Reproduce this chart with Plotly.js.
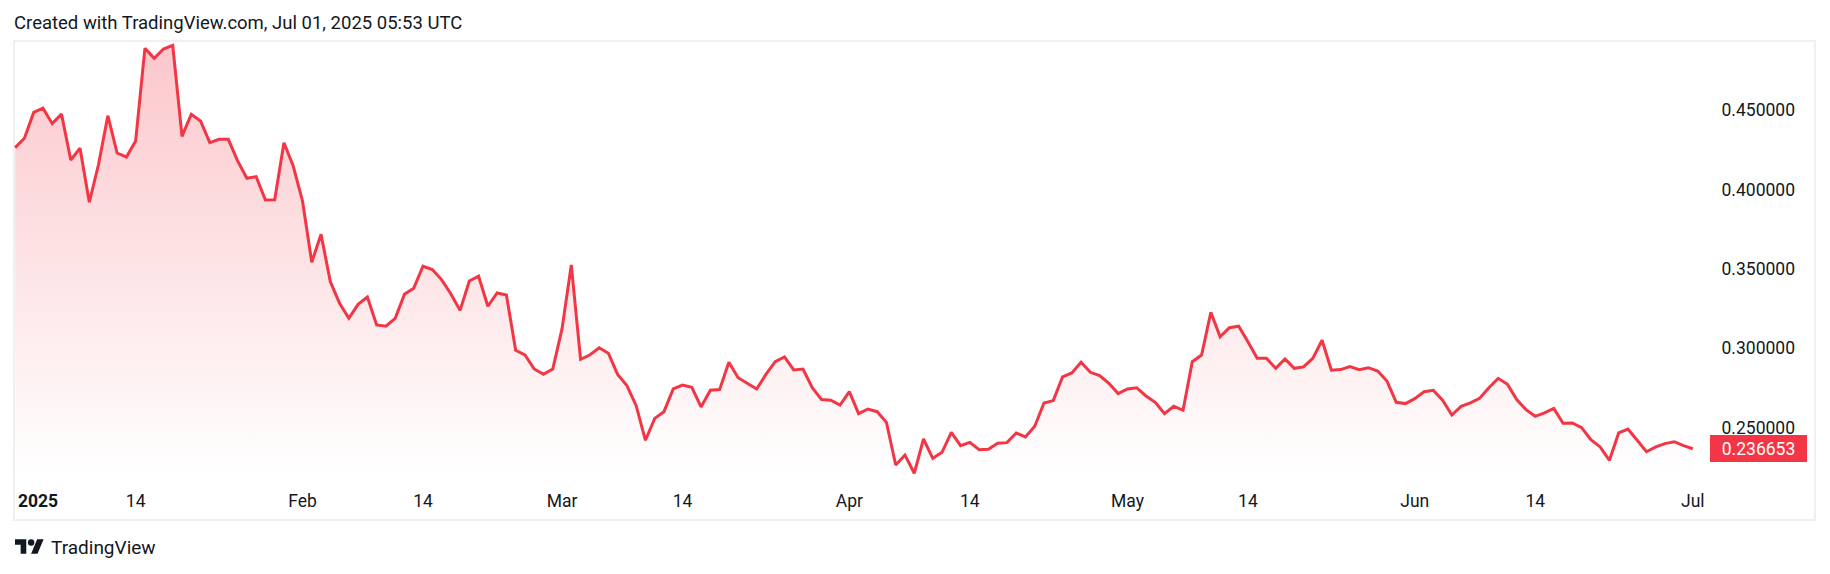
<!DOCTYPE html>
<html>
<head>
<meta charset="utf-8">
<script src="https://cdn.plot.ly/plotly-3.0.1.min.js"></script>
<style>
  html, body { margin: 0; padding: 0; background: #ffffff; }
  #chart { width: 1830px; height: 574px; }
</style>
</head>
<body>
<div id="chart"></div>
<script>
// ---- data (daily closes, Jan 1 2025 .. Jul 1 2025) ----
const startDate = '2025-01-01';
const values = [
  0.4263, 0.4322, 0.4485, 0.4511, 0.4414, 0.4475, 0.4185, 0.4259, 0.3919, 0.4158,
  0.4464, 0.4229, 0.4204, 0.4305, 0.4888, 0.4825, 0.4884, 0.4907, 0.4334, 0.4473,
  0.4431, 0.4294, 0.4315, 0.4315, 0.4179, 0.4070, 0.4080, 0.3933, 0.3935, 0.4294,
  0.4147, 0.3927, 0.3541, 0.3717, 0.3419, 0.3283, 0.3188, 0.3276, 0.3322, 0.3146,
  0.3138, 0.3188, 0.3339, 0.3377, 0.3516, 0.3495, 0.3432, 0.3343, 0.3238, 0.3423,
  0.3453, 0.3264, 0.3348, 0.3335, 0.2987, 0.2957, 0.2869, 0.2835, 0.2869, 0.3121,
  0.3524, 0.2930, 0.2957, 0.3003, 0.2968, 0.2835, 0.2764, 0.2638, 0.2420, 0.2558,
  0.2600, 0.2743, 0.2768, 0.2754, 0.2630, 0.2735, 0.2739, 0.2911, 0.2814, 0.2777,
  0.2743, 0.2835, 0.2915, 0.2945, 0.2863, 0.2869, 0.2751, 0.2676, 0.2672, 0.2642,
  0.2726, 0.2588, 0.2617, 0.2600, 0.2533, 0.2264, 0.2327, 0.2212, 0.2428, 0.2306,
  0.2344, 0.2470, 0.2386, 0.2407, 0.2361, 0.2363, 0.2401, 0.2405, 0.2466, 0.2441,
  0.2508, 0.2655, 0.2670, 0.2819, 0.2844, 0.2911, 0.2848, 0.2827, 0.2779, 0.2714,
  0.2743, 0.2751, 0.2699, 0.2659, 0.2588, 0.2634, 0.2609, 0.2915, 0.2957, 0.3226,
  0.3071, 0.3129, 0.3138, 0.3041, 0.2936, 0.2936, 0.2873, 0.2932, 0.2873, 0.2882,
  0.2936, 0.3050, 0.2861, 0.2865, 0.2884, 0.2865, 0.2877, 0.2856, 0.2793, 0.2659,
  0.2651, 0.2682, 0.2726, 0.2735, 0.2672, 0.2579, 0.2634, 0.2655, 0.2684, 0.2751,
  0.2810, 0.2773, 0.2676, 0.2613, 0.2571, 0.2592, 0.2621, 0.2527, 0.2529, 0.2500,
  0.2424, 0.2378, 0.2294, 0.2466, 0.2491, 0.2420, 0.2348, 0.2378, 0.2399, 0.2411,
  0.2386, 0.236653
];
const lastPriceText = '0.236653';

// x tick labels
const xTickDates = ['2025-01-14', '2025-02-01', '2025-02-14', '2025-03-01', '2025-03-14',
                    '2025-04-01', '2025-04-14', '2025-05-01', '2025-05-14', '2025-06-01',
                    '2025-06-14', '2025-07-01'];
const xTickText  = ['14', 'Feb', '14', 'Mar', '14', 'Apr', '14', 'May', '14', 'Jun', '14', 'Jul'];
const yearLabel = '2025';
// y tick labels
const yTickVals = [0.25, 0.30, 0.35, 0.40, 0.45];

const titleText = 'Created with TradingView.com, Jul 01, 2025 05:53 UTC';
const brandText = 'TradingView';

// ---- build dates ----
const dates = [];
{
  const d0 = new Date(startDate + 'T00:00:00Z');
  for (let i = 0; i < values.length; i++) {
    const d = new Date(d0.getTime() + i * 86400000);
    dates.push(d.toISOString().slice(0, 10));
  }
}

const FONT = 'Roboto, "Liberation Sans", Arial, sans-serif';
const RED = '#f23645';
const TXT = '#131722';

const W = 1830, H = 574;
const mL = 14, mR = 15, mT = 41, mB = 98;
const plotH = H - mT - mB;
const frameBottomPx = 520;
const yTop = 0.49345, yBot = 0.2195;

const logoSvg = '<svg xmlns="http://www.w3.org/2000/svg" viewBox="0 0 36 28"><path fill="#131722" d="M14 22H7V11H0V4h14v18zM28 22h-8l7.5-18h8L28 22z"/><circle fill="#131722" cx="20" cy="8" r="4"/></svg>';
const logoUri = 'data:image/svg+xml;base64,' + btoa(logoSvg);

const trace = {
  type: 'scatter',
  mode: 'lines',
  x: dates,
  y: values,
  line: { color: RED, width: 3 },
  fill: 'tozeroy',
  fillgradient: {
    type: 'vertical',
    start: yBot,
    stop: yTop,
    colorscale: [[0, 'rgba(242,54,69,0.0)'], [1, 'rgba(242,54,69,0.28)']]
  },
  hoverinfo: 'skip'
};

const layout = {
  width: W, height: H,
  margin: { l: mL, r: mR, t: mT, b: mB, pad: 0 },
  paper_bgcolor: '#ffffff',
  plot_bgcolor: '#ffffff',
  showlegend: false,
  font: { family: FONT, size: 17.5, color: TXT },
  title: {
    text: titleText,
    xref: 'container', x: 14 / W, xanchor: 'left',
    yref: 'container', y: 1 - 23 / H, yanchor: 'middle',
    font: { family: FONT, size: 18.5, color: TXT }
  },
  xaxis: {
    type: 'date',
    range: ['2024-12-31 21:00', '2025-07-14 04:19'],
    showgrid: false, zeroline: false, showline: false,
    ticks: '',
    tickmode: 'array',
    tickvals: xTickDates,
    ticktext: xTickText,
    tickfont: { family: FONT, size: 17.5, color: TXT },
    ticklabelstandoff: 12,
    fixedrange: true
  },
  yaxis: {
    range: [yBot, yTop],
    side: 'right',
    showgrid: false, zeroline: false, showline: false,
    ticks: '',
    tickmode: 'array',
    tickvals: yTickVals,
    tickformat: '.6f',
    ticklabelposition: 'inside',
    ticklabelstandoff: 17,
    tickfont: { family: FONT, size: 17.5, color: TXT },
    fixedrange: true
  },
  shapes: [
    {
      type: 'rect', xref: 'paper', yref: 'paper', layer: 'below',
      x0: 0, x1: 1, y0: (mT + plotH - frameBottomPx) / plotH, y1: 1,
      line: { color: '#f0f0f0', width: 2 }, fillcolor: 'rgba(0,0,0,0)'
    }
  ],
  annotations: [
    {
      text: '<b>' + yearLabel + '</b>',
      xref: 'x', x: startDate, xanchor: 'left', xshift: 1,
      yref: 'paper', y: (mT + plotH - 501) / plotH, yanchor: 'middle',
      showarrow: false,
      font: { family: FONT, size: 17.5, color: TXT }
    },
    {
      text: lastPriceText,
      xref: 'paper', x: 1, xanchor: 'right', xshift: -8,
      yref: 'y', y: values[values.length - 1], yanchor: 'middle',
      showarrow: false,
      bgcolor: RED, borderpad: 3, borderwidth: 0,
      width: 91, height: 21, align: 'center',
      font: { family: FONT, size: 17.5, color: '#ffffff' }
    },
    {
      text: brandText,
      xref: 'paper', x: (49 - mL) / (W - mL - mR), xanchor: 'left',
      yref: 'paper', y: (mT + plotH - 547) / plotH, yanchor: 'middle',
      showarrow: false,
      font: { family: FONT, size: 19, color: TXT }
    }
  ],
  images: [
    {
      source: logoUri,
      xref: 'paper', yref: 'paper',
      x: (15 - mL) / (W - mL - mR), y: (mT + plotH - 536) / plotH,
      sizex: 29 / (W - mL - mR), sizey: 22.5 / plotH,
      xanchor: 'left', yanchor: 'top',
      sizing: 'stretch', layer: 'above'
    }
  ]
};

Plotly.newPlot('chart', [trace], layout, { displayModeBar: false, staticPlot: true });
</script>
</body>
</html>
